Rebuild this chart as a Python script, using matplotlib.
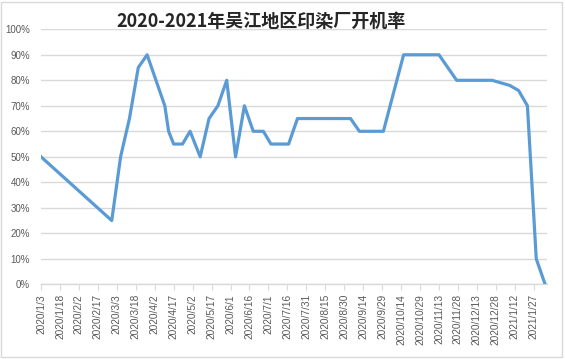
import matplotlib
matplotlib.use('Agg')
import matplotlib.pyplot as plt
import matplotlib.dates as mdates
import pandas as pd

# weekly run rate readings (dates, percent)
dates = ['2020-01-03', '2020-02-28', '2020-03-06', '2020-03-13', '2020-03-20',
         '2020-03-27', '2020-04-10', '2020-04-13', '2020-04-17', '2020-04-24',
         '2020-04-30', '2020-05-08', '2020-05-15', '2020-05-22', '2020-05-29',
         '2020-06-05', '2020-06-12', '2020-06-19', '2020-06-27', '2020-07-03',
         '2020-07-10', '2020-07-17', '2020-07-24', '2020-07-31', '2020-08-07',
         '2020-08-14', '2020-08-21', '2020-08-28', '2020-09-04', '2020-09-11',
         '2020-09-18', '2020-09-25', '2020-09-30', '2020-10-16', '2020-10-23',
         '2020-10-30', '2020-11-06', '2020-11-13', '2020-11-27', '2020-12-04',
         '2020-12-11', '2020-12-18', '2020-12-25', '2021-01-08', '2021-01-15',
         '2021-01-22', '2021-01-29', '2021-02-05']
rates = [50, 25, 50, 65, 85,
         90, 70, 60, 55, 55,
         60, 50, 65, 70, 80,
         50, 70, 60, 60, 55,
         55, 55, 65, 65, 65,
         65, 65, 65, 65, 60,
         60, 60, 60, 90, 90,
         90, 90, 90, 80, 80,
         80, 80, 80, 78, 76,
         70, 10, 0]

title = '2020-2021年吴江地区印染厂开机率'
tick_dates = pd.date_range('2020-01-03', periods=27, freq='15D')
tick_labels = [f'{d.year}/{d.month}/{d.day}' for d in tick_dates]
y_ticks = list(range(0, 101, 10))

plt.rcParams['font.family'] = ['Liberation Sans', 'Noto Sans CJK SC', 'DejaVu Sans']

fig = plt.figure(figsize=(5.65, 3.59), dpi=100)
ax = fig.add_axes([41 / 565, 1 - 284.3 / 359, (547 - 41) / 565, (284.3 - 29.3) / 359])

x = pd.to_datetime(dates)
ax.plot(x, rates, color='#5B9BD5', lw=2.3, solid_joinstyle='round', zorder=3)

start = pd.Timestamp('2020-01-03')
ax.set_xlim(start, start + pd.Timedelta(days=400.5))
ax.set_ylim(0, 100)

ax.set_yticks(y_ticks)
ax.set_yticklabels([f'{v}%' for v in y_ticks])
ax.set_xticks(tick_dates)
ax.set_xticklabels(tick_labels, rotation=90)

ax.grid(axis='y', color='#D9D9D9', lw=1)
ax.set_axisbelow(True)
for s in ['top', 'right', 'left']:
    ax.spines[s].set_visible(False)
ax.spines['bottom'].set_color('#D9D9D9')
ax.spines['bottom'].set_linewidth(1)

ax.tick_params(axis='y', length=0, pad=8, labelsize=7, labelcolor='#595959')
ax.tick_params(axis='x', length=4, width=0.8, color='#D9D9D9', pad=3,
               labelsize=7.3, labelcolor='#595959')

fig.text(261 / 565, 1 - 21 / 359, title, ha='center', va='center',
         fontsize=13, fontweight='bold', color='#262626',
         family=['Noto Sans CJK SC', 'DejaVu Sans'])

# chart area border
border = plt.Rectangle((1 / 565, 2 / 359), 561 / 565, 355 / 359, transform=fig.transFigure,
                       fill=False, edgecolor='#D9D9D9', lw=1)
fig.patches.append(border)

fig.savefig('out.png', dpi=100)
